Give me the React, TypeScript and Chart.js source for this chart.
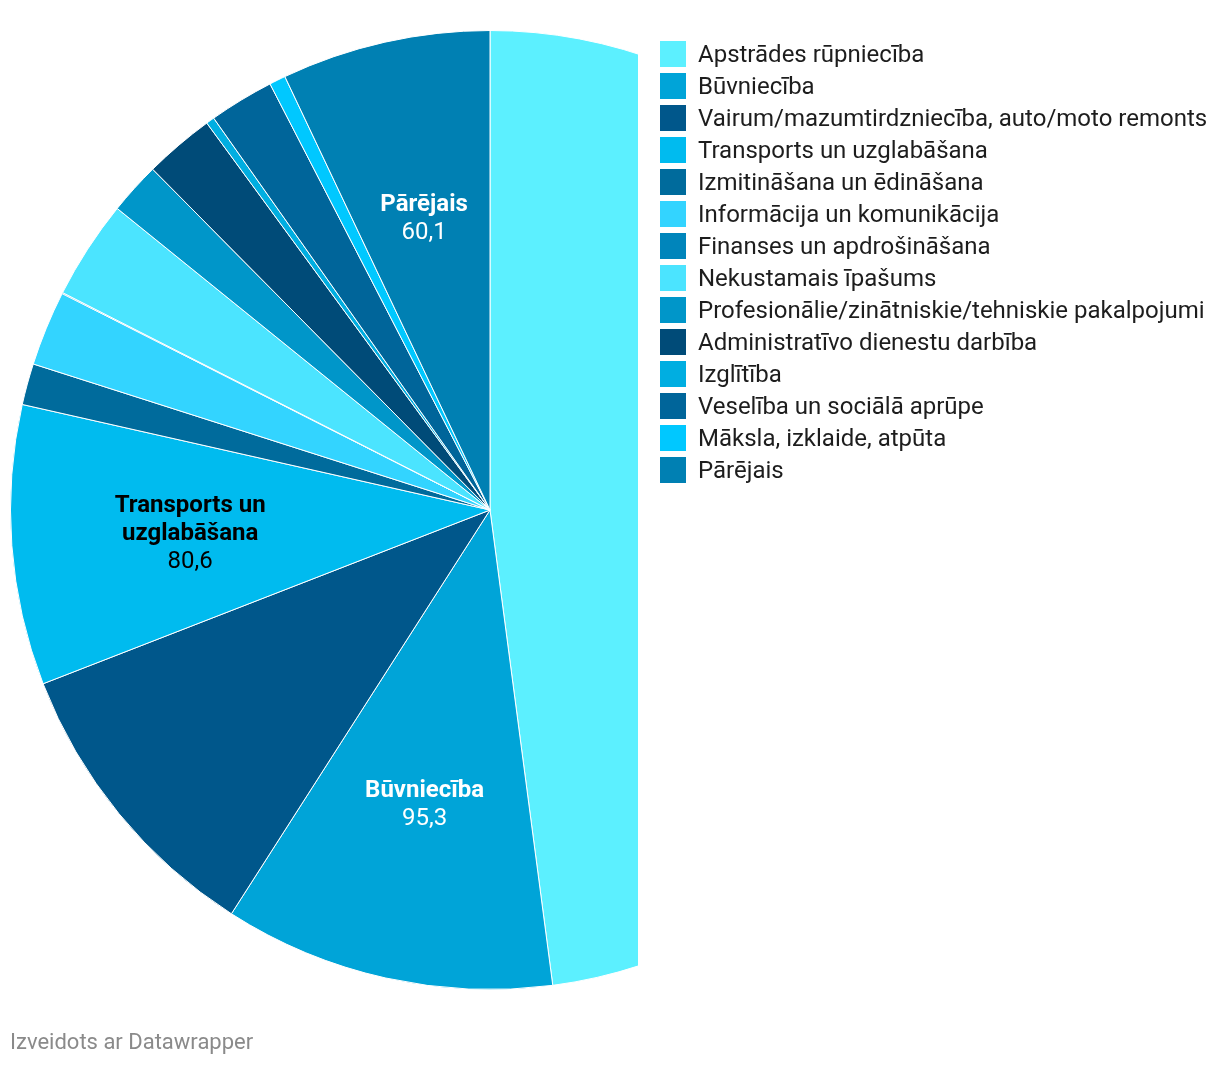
import React, { useEffect, useRef } from "react";
import { Chart, registerables } from "chart.js";

Chart.register(...registerables);

const categories = [
  "Apstrādes rūpniecība",
  "Būvniecība",
  "Vairum/mazumtirdzniecība, auto/moto remonts",
  "Transports un uzglabāšana",
  "Izmitināšana un ēdināšana",
  "Informācija un komunikācija",
  "Finanses un apdrošināšana",
  "Nekustamais īpašums",
  "Profesionālie/zinātniskie/tehniskie pakalpojumi",
  "Administratīvo dienestu darbība",
  "Izglītība",
  "Veselība un sociālā aprūpe",
  "Māksla, izklaide, atpūta",
  "Pārējais",
];

const values = [409.3, 95.3, 85.7, 80.6, 11.9, 21.6, 0.3, 28.5, 15.0, 20.2, 2.4, 18.7, 4.7, 60.1];

const colors = [
  "#5cf0ff",
  "#00a4d8",
  "#00578b",
  "#00bbef",
  "#006b9c",
  "#33d4ff",
  "#0085bb",
  "#4be4ff",
  "#0096c9",
  "#004b78",
  "#00aee1",
  "#00659a",
  "#00c8ff",
  "#0080b3",
];

// slices that carry an inline label: [index, title lines, value text, text colour]
const labelled: [number, string[], string, string][] = [
  [1, ["Būvniecība"], "95,3", "#ffffff"],
  [3, ["Transports un", "uzglabāšana"], "80,6", "#000000"],
  [13, ["Pārējais"], "60,1", "#ffffff"],
];

const FONT = "Roboto, 'Noto Sans', sans-serif";

const clipPlugin = {
  id: "clipRight",
  beforeDatasetsDraw(chart: any) {
    const ctx = chart.ctx;
    ctx.save();
    ctx.beginPath();
    ctx.rect(0, 0, 638, chart.height);
    ctx.clip();
  },
  afterDatasetsDraw(chart: any) {
    chart.ctx.restore();
    const ctx = chart.ctx;
    const meta = chart.getDatasetMeta(0);
    labelled.forEach(([idx, titles, val, color]) => {
      const arc = meta.data[idx];
      const p = arc.getProps(["x", "y", "startAngle", "endAngle", "outerRadius"], true);
      const mid = (p.startAngle + p.endAngle) / 2;
      const r = p.outerRadius * 0.627;
      const cx = p.x + Math.cos(mid) * r;
      const cy = p.y + Math.sin(mid) * r + 2;
      const lines = titles.length + 1;
      const lh = 28;
      const y0 = cy - ((lines - 1) * lh) / 2;
      ctx.save();
      ctx.fillStyle = color;
      ctx.textAlign = "center";
      ctx.textBaseline = "middle";
      titles.forEach((t, i) => {
        ctx.font = `bold 24px ${FONT}`;
        ctx.fillText(t, cx, y0 + i * lh);
      });
      ctx.font = `24px ${FONT}`;
      ctx.fillText(val, cx, y0 + titles.length * lh);
      ctx.restore();
    });
  },
};

export default function App() {
  const ref = useRef<HTMLCanvasElement>(null);
  useEffect(() => {
    document.body.style.margin = "0";
    const chart = new Chart(ref.current!, {
      type: "pie",
      data: {
        labels: categories,
        datasets: [
          {
            data: values,
            backgroundColor: colors,
            borderColor: "#ffffff",
            borderWidth: 1,
            hoverOffset: 0,
            offset: 0,
          },
        ],
      },
      options: {
        responsive: false,
        animation: false,
        layout: { padding: { left: 10, right: 250, top: 30, bottom: 76 } },
        plugins: { legend: { display: false }, tooltip: { enabled: false } },
      },
      plugins: [clipPlugin],
    });
    return () => chart.destroy();
  }, []);

  return (
    <div style={{ position: "relative", width: 1220, height: 1066, fontFamily: FONT, background: "#fff" }}>
      <canvas ref={ref} width={1220} height={1066} style={{ position: "absolute", left: 0, top: 0 }} />
      <div style={{ position: "absolute", left: 660, top: 38 }}>
        {categories.map((c, i) => (
          <div key={c} style={{ display: "flex", alignItems: "center", height: 32 }}>
            <span style={{ width: 26, height: 26, background: colors[i], display: "inline-block", marginRight: 12, flex: "none" }} />
            <span style={{ fontSize: 24, lineHeight: "32px", color: "#1d1d1d", whiteSpace: "nowrap" }}>{c}</span>
          </div>
        ))}
      </div>
      <div style={{ position: "absolute", left: 10, top: 1029, fontSize: 22, color: "#8a8a8a", whiteSpace: "nowrap" }}>
        Izveidots ar Datawrapper
      </div>
    </div>
  );
}
